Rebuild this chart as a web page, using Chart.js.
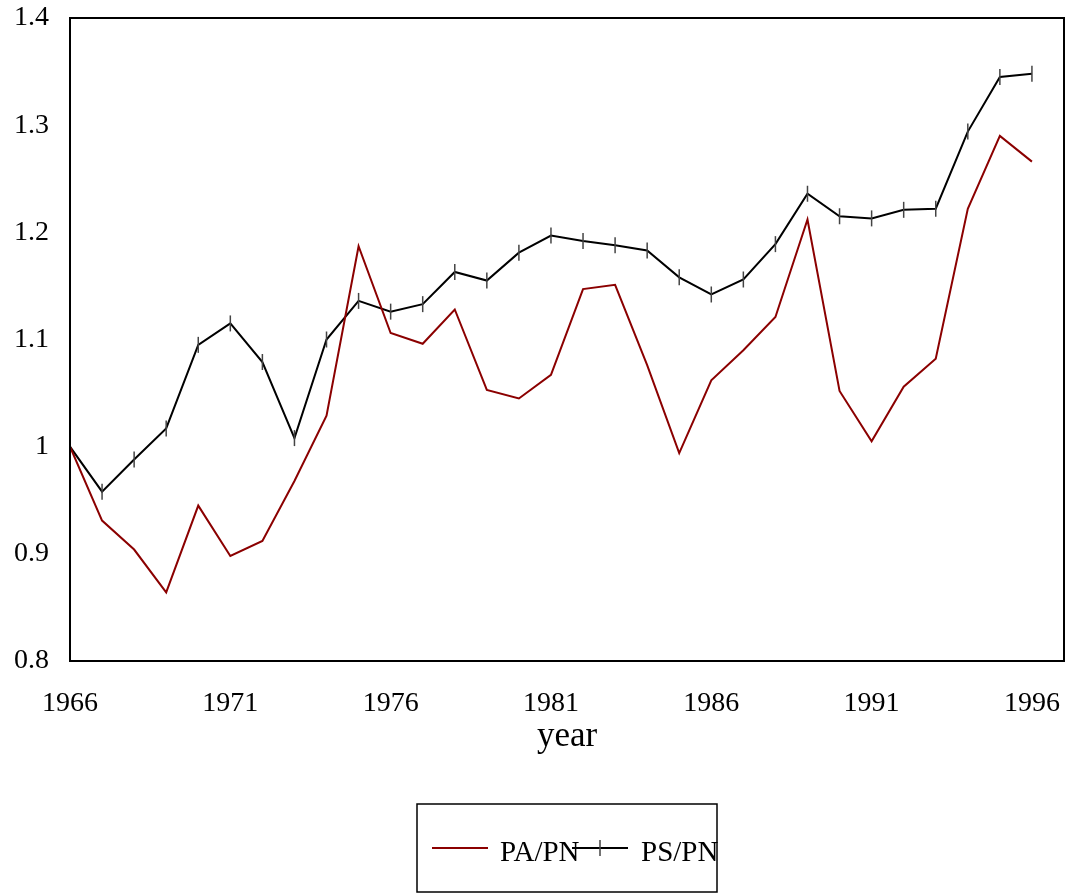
<!DOCTYPE html>

<head>
    <script src="https://cdn.jsdelivr.net/npm/chart.js"></script>
    <style>
        body { margin: 0; background: #fff; overflow: hidden; }
        canvas { display: block; }
    </style>
</head>

<body>
    <canvas id="myChart" width="1069" height="894"></canvas>
    <script>
        // data
        const years = [1966, 1967, 1968, 1969, 1970, 1971, 1972, 1973, 1974, 1975, 1976,
            1977, 1978, 1979, 1980, 1981, 1982, 1983, 1984, 1985, 1986,
            1987, 1988, 1989, 1990, 1991, 1992, 1993, 1994, 1995, 1996];
        const paPn = [1.000, 0.931, 0.904, 0.864, 0.945, 0.898, 0.912, 0.968, 1.029, 1.187, 1.106,
            1.096, 1.128, 1.053, 1.045, 1.067, 1.147, 1.151, 1.076, 0.994, 1.062,
            1.090, 1.121, 1.212, 1.052, 1.005, 1.056, 1.082, 1.222, 1.290, 1.266];
        const psPn = [1.000, 0.958, 0.988, 1.017, 1.095, 1.115, 1.079, 1.008, 1.100, 1.136, 1.126,
            1.133, 1.163, 1.155, 1.181, 1.197, 1.192, 1.188, 1.183, 1.158, 1.142,
            1.156, 1.189, 1.236, 1.215, 1.213, 1.221, 1.222, 1.294, 1.345, 1.348];
        const xTicks = [1966, 1971, 1976, 1981, 1986, 1991, 1996];
        const yTicks = [0.8, 0.9, 1.0, 1.1, 1.2, 1.3, 1.4];

        const serif = "'Liberation Serif', 'Times New Roman', serif";
        const rightGap = 5;

        // chart.js keeps some room for the last x label; take it back
        const rightEdgePlugin = {
            id: 'rightEdge',
            afterLayout(chart) {
                const a = chart.chartArea, x = chart.scales.x;
                a.right = chart.width - rightGap;
                a.width = a.right - a.left;
                x.right = a.right;
                x.width = a.right - x.left;
                x.configure();
            }
        };

        // box round the plot
        const framePlugin = {
            id: 'frame',
            afterDatasetsDraw(chart) {
                const a = chart.chartArea, ctx = chart.ctx;
                ctx.save();
                ctx.strokeStyle = '#000';
                ctx.lineWidth = 2;
                ctx.strokeRect(a.left, a.top, a.right - a.left, a.bottom - a.top);
                ctx.restore();
            }
        };

        // boxed legend under the axis title
        const legendPlugin = {
            id: 'boxLegend',
            afterDraw(chart) {
                const ctx = chart.ctx, a = chart.chartArea;
                const cx = (a.left + a.right) / 2;
                const left = cx - 150, top = 804;
                const ds = chart.data.datasets;
                ctx.save();
                ctx.strokeStyle = '#000';
                ctx.lineWidth = 1.5;
                ctx.strokeRect(left, top, 300, 88);
                const ly = 848;
                // first entry
                ctx.strokeStyle = ds[0].borderColor;
                ctx.lineWidth = 2;
                ctx.beginPath(); ctx.moveTo(left + 15, ly); ctx.lineTo(left + 71, ly); ctx.stroke();
                ctx.fillStyle = '#000';
                ctx.font = '29px ' + serif;
                ctx.textBaseline = 'alphabetic';
                ctx.fillText(ds[0].label, left + 83, 861);
                // second entry
                ctx.strokeStyle = ds[1].borderColor;
                ctx.beginPath(); ctx.moveTo(left + 155, ly); ctx.lineTo(left + 211, ly); ctx.stroke();
                ctx.strokeStyle = ds[1].pointBorderColor;
                ctx.lineWidth = 1.5;
                ctx.beginPath(); ctx.moveTo(left + 183, ly - 8); ctx.lineTo(left + 183, ly + 8); ctx.stroke();
                ctx.fillText(ds[1].label, left + 224, 861);
                ctx.restore();
            }
        };

        let ctx = document.getElementById('myChart').getContext('2d');
        let lineChart = new Chart(ctx, {
            type: 'line',
            data: {
                datasets: [
                    {
                        label: 'PA/PN',
                        data: years.map((y, i) => ({ x: y, y: paPn[i] })),
                        borderColor: '#8b0000',
                        borderWidth: 2,
                        pointRadius: 0,
                        tension: 0,
                    },
                    {
                        label: 'PS/PN',
                        data: years.map((y, i) => ({ x: y, y: psPn[i] })),
                        borderColor: '#000',
                        borderWidth: 2,
                        pointStyle: 'line',
                        pointRotation: 90,
                        pointRadius: 8,
                        pointBorderWidth: 1.5,
                        pointBorderColor: '#444',
                        tension: 0,
                    }
                ],
            },
            options: {
                responsive: false,
                animation: false,
                layout: { padding: { top: 18, right: rightGap, bottom: 136, left: 0 } },
                plugins: {
                    legend: { display: false },
                    tooltip: { enabled: false },
                },
                scales: {
                    x: {
                        type: 'linear',
                        min: 1966,
                        max: 1997,
                        grid: { display: false, drawTicks: false },
                        border: { display: false },
                        afterBuildTicks: (scale) => { scale.ticks = xTicks.map(v => ({ value: v })); },
                        afterFit: (scale) => {
                            scale.height = 97;
                            scale.paddingLeft = 0;
                            scale.paddingRight = 0;
                        },
                        ticks: {
                            color: '#000',
                            font: { family: serif, size: 28 },
                            padding: 26,
                            maxRotation: 0,
                            autoSkip: false,
                            callback: (v) => String(v),
                        },
                        title: {
                            display: true,
                            text: 'year',
                            color: '#000',
                            font: { family: serif, size: 35 },
                            padding: 0,
                        },
                    },
                    y: {
                        min: 0.8,
                        max: 1.4,
                        grid: { display: false, drawTicks: false },
                        border: { display: false },
                        afterBuildTicks: (scale) => { scale.ticks = yTicks.map(v => ({ value: v })); },
                        afterFit: (scale) => {
                            scale.width = 70;
                            scale.paddingTop = 0;
                            scale.paddingBottom = 0;
                        },
                        ticks: {
                            color: '#000',
                            font: { family: serif, size: 28 },
                            padding: 21,
                            callback: (v) => String(+v.toFixed(1)),
                        },
                    },
                },
            },
            plugins: [rightEdgePlugin, framePlugin, legendPlugin],
        });
    </script>
</body>
